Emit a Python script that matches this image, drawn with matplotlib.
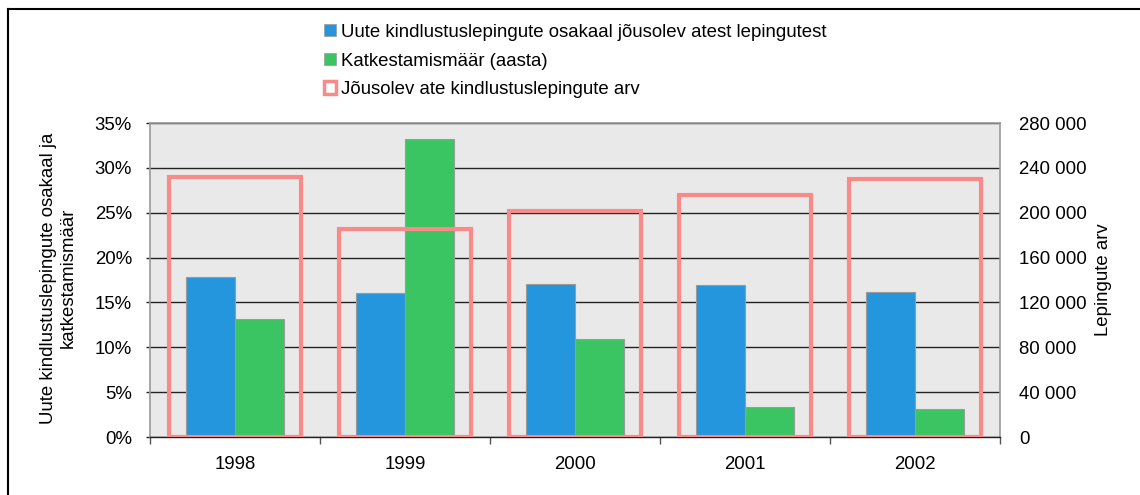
import matplotlib
matplotlib.use("Agg")
import matplotlib.pyplot as plt
from matplotlib.patches import Patch
from matplotlib.lines import Line2D
import numpy as np

years = ["1998", "1999", "2000", "2001", "2002"]
new_share = [17.8, 16.0, 17.1, 16.9, 16.2]          # %
cancel_rate = [13.1, 33.2, 10.9, 3.3, 3.1]          # %
contracts = [231500, 185200, 201800, 215800, 229800]

left_ticks = [0, 5, 10, 15, 20, 25, 30, 35]
right_ticks = [0, 40000, 80000, 120000, 160000, 200000, 240000, 280000]

label_blue = "Uute kindlustuslepingute osakaal jõusolev atest lepingutest"
label_green = "Katkestamismäär (aasta)"
label_pink = "Jõusolev ate kindlustuslepingute arv"
ylabel_left = "Uute kindlustuslepingute osakaal ja\nkatkestamismäär"
ylabel_right = "Lepingute arv"

BLUE = "#2496de"
GREEN = "#3bc562"
PINK = "#f98a8a"
BG = "#e9e9e9"

FS = 13.4
plt.rcParams['font.family'] = ['Liberation Sans', 'DejaVu Sans']
plt.rcParams['font.size'] = FS

W, H = 1140, 495
fig = plt.figure(figsize=(W / 100, H / 100), dpi=100)
ax = fig.add_axes([150 / W, 1 - 437 / H, 850 / W, 314 / H])
ax.set_facecolor(BG)

x = np.arange(len(years))
bw = 0.29
ax.bar(x - bw / 2, new_share, width=bw, color=BLUE, edgecolor="#9a9a9a", linewidth=0.8, zorder=3)
ax.bar(x + bw / 2, cancel_rate, width=bw, color=GREEN, edgecolor="#9a9a9a", linewidth=0.8, zorder=3)

ax.set_xlim(-0.5, len(years) - 0.5)
ax.set_ylim(0, 35)
ax.set_yticks(left_ticks)
ax.set_yticklabels([f"{t}%" for t in left_ticks])
ax.yaxis.grid(True, color="#222222", linewidth=1.0, zorder=1)
ax.set_axisbelow(True)
ax.tick_params(axis="y", length=3, width=1, color="#222222", pad=10, labelsize=FS)

ax.set_xticks(x)
ax.set_xticklabels(years)
ax.set_xticks(np.arange(-0.5, len(years)), minor=True)
ax.tick_params(axis="x", which="major", length=0, pad=14, labelsize=FS)
ax.tick_params(axis="x", which="minor", length=5, width=1, color="#555555")

for s in ["top", "left", "right"]:
    ax.spines[s].set_color("#999999")
    ax.spines[s].set_linewidth(1.2)
ax.spines["bottom"].set_color("#222222")
ax.spines["bottom"].set_linewidth(1.0)

ax2 = ax.twinx()
ax2.bar(x, contracts, width=0.776, fill=False, edgecolor=PINK, linewidth=3.0, zorder=4,
        joinstyle="miter")
ax2.set_ylim(0, 280000)
ax2.set_yticks(right_ticks)
ax2.set_yticklabels([f"{t:,}".replace(",", " ") for t in right_ticks])
ax2.tick_params(axis="y", length=0, pad=14, labelsize=FS)
for s in ax2.spines.values():
    s.set_visible(False)

fig.text(58 / W, 1 - 278 / H, ylabel_left, rotation=90, ha="center", va="center",
         multialignment="center", fontsize=FS, linespacing=1.2)
fig.text(1103 / W, 1 - 280 / H, ylabel_right, rotation=90, ha="center", va="center", fontsize=FS)

handles = [
    Patch(facecolor=BLUE, edgecolor="#9a9a9a", linewidth=0.5),
    Patch(facecolor=GREEN, edgecolor="#9a9a9a", linewidth=0.5),
    Patch(facecolor="white", edgecolor=PINK, linewidth=2.5),
]
fig.legend(handles, [label_blue, label_green, label_pink], loc="upper left",
           bbox_to_anchor=(324 / W, 1 - 24 / H), frameon=False, fontsize=FS,
           handlelength=0.62, handleheight=0.62, handletextpad=0.3, labelspacing=0.62,
           borderaxespad=0, borderpad=0)

# figure frame (top and left lines)
fig.add_artist(Line2D([8 / W, 1.0], [1 - 9 / H, 1 - 9 / H], color="black", linewidth=1.5,
                      transform=fig.transFigure))
fig.add_artist(Line2D([8 / W, 8 / W], [0, 1 - 9 / H], color="black", linewidth=1.5,
                      transform=fig.transFigure))

fig.savefig("out.png", dpi=100)
